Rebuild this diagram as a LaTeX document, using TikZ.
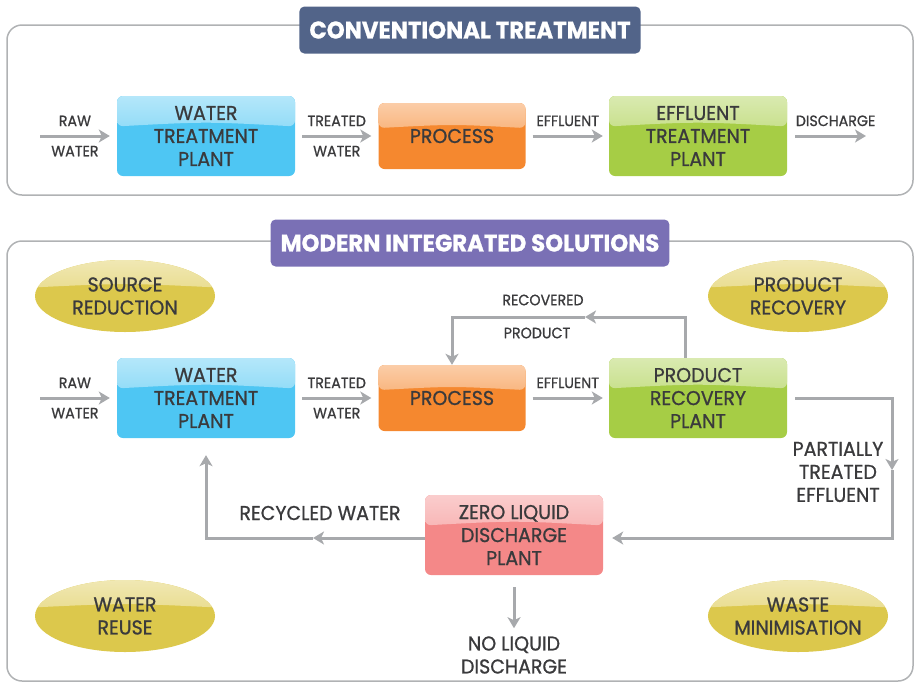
\documentclass[tikz,border=0pt]{standalone}
\usepackage{fontspec}
\setmainfont[FakeStretch=0.95, FakeBold=0.9]{Poppins}
\usetikzlibrary{arrows.meta,positioning,calc,shapes.geometric}
\definecolor{framegray}{RGB}{176,178,180}
\definecolor{flowgray}{RGB}{167,169,172}
\definecolor{textdark}{RGB}{58,58,60}
\definecolor{convblue}{RGB}{82,100,137}
\definecolor{modpurple}{RGB}{122,112,181}
\definecolor{wtpcyan}{RGB}{78,198,243}
\definecolor{procorange}{RGB}{245,136,47}
\definecolor{etpgreen}{RGB}{166,205,69}
\definecolor{zldpink}{RGB}{244,136,136}
\definecolor{goalyellow}{RGB}{220,200,76}

\tikzset{
  glossy/.style={fill=#1, path picture={
    \shade[top color=white!58!#1, bottom color=white!9!#1]
      (path picture bounding box.north west) -- (path picture bounding box.north east)
      -- ($(path picture bounding box.north east)!0.38!(path picture bounding box.south east)$)
      .. controls ($(path picture bounding box.north)!0.32!(path picture bounding box.south)$) ..
      ($(path picture bounding box.north west)!0.38!(path picture bounding box.south west)$) -- cycle;}},
  plant/.style={rounded corners=6pt, minimum width=178pt, minimum height=80pt, align=center,
    text=textdark, font=\fontsize{20}{23}\selectfont, glossy=#1},
  goal/.style={ellipse, minimum width=180pt, minimum height=72pt, inner sep=0pt, align=center,
    text=textdark, font=\fontsize{20}{23}\selectfont, glossy=goalyellow},
  banner/.style={rounded corners=5pt, fill=#1, text=white, minimum height=47pt, inner xsep=10pt,
    font=\bfseries\fontsize{24}{24}\selectfont},
  frame/.style={draw=framegray, line width=1.5pt, rounded corners=15pt},
  flow/.style={draw=flowgray, line width=3pt, -{Stealth[length=11pt, width=13pt, inset=3pt]}},
  lbl/.style={text=textdark, font=\fontsize{15}{16}\selectfont},
  note/.style={text=textdark, font=\fontsize{20}{23}\selectfont, align=center}
}

\begin{document}
\begin{tikzpicture}[x=1pt, y=-1pt]
  \useasboundingbox (0,0) rectangle (915,683);
  \clip (0,0) rectangle (915,683);

  % conventional treatment
  \draw[frame] (7,25) rectangle (913,195);
  \node[banner=convblue] (convtitle) at (470,30) {CONVENTIONAL TREATMENT};

  \node[plant=wtpcyan] (wtp1) at (206,136) {WATER\\TREATMENT\\PLANT};
  \node[plant=procorange, minimum width=147pt, minimum height=66pt] (proc1) at (452,136) {PROCESS};
  \node[plant=etpgreen] (etp1) at (698,136) {EFFLUENT\\TREATMENT\\PLANT};
  \coordinate (rawin1) at (40,136);
  \coordinate (dischout) at (866,136);

  \draw[flow] (rawin1) -- ([xshift=-7pt]wtp1.west)
    node[lbl, midway, above=5pt] {RAW} node[lbl, midway, below=5pt] {WATER};
  \draw[flow] ([xshift=7pt]wtp1.east) -- ([xshift=-7pt]proc1.west)
    node[lbl, midway, above=5pt] {TREATED} node[lbl, midway, below=5pt] {WATER};
  \draw[flow] ([xshift=7pt]proc1.east) -- ([xshift=-6pt]etp1.west)
    node[lbl, midway, above=5pt] {EFFLUENT};
  \draw[flow] ([xshift=8pt]etp1.east) -- (dischout)
    node[lbl, midway, above=5pt, xshift=5pt] {DISCHARGE};

  % modern integrated solutions
  \draw[frame] (7,241) rectangle (913,681);
  \node[banner=modpurple] (modtitle) at (470,243) {MODERN INTEGRATED SOLUTIONS};

  \node[goal] (source) at (125,296) {SOURCE\\REDUCTION};
  \node[goal] (prodrec) at (798,296) {PRODUCT\\RECOVERY};
  \node[goal] (reuse) at (125,616) {WATER\\REUSE};
  \node[goal] (waste) at (798,616) {WASTE\\MINIMISATION};

  \node[plant=wtpcyan] (wtp2) at (206,398) {WATER\\TREATMENT\\PLANT};
  \node[plant=procorange, minimum width=147pt, minimum height=66pt] (proc2) at (452,398) {PROCESS};
  \node[plant=etpgreen] (prp) at (698,398) {PRODUCT\\RECOVERY\\PLANT};
  \node[plant=zldpink] (zld) at (514,535) {ZERO LIQUID\\DISCHARGE\\PLANT};
  \coordinate (rawin2) at (40,398);

  \draw[flow] (rawin2) -- ([xshift=-7pt]wtp2.west)
    node[lbl, midway, above=5pt] {RAW} node[lbl, midway, below=5pt] {WATER};
  \draw[flow] ([xshift=7pt]wtp2.east) -- ([xshift=-7pt]proc2.west)
    node[lbl, midway, above=5pt] {TREATED} node[lbl, midway, below=5pt] {WATER};
  \draw[flow] ([xshift=7pt]proc2.east) -- ([xshift=-6pt]prp.west)
    node[lbl, midway, above=5pt] {EFFLUENT};

  % recovered product loop
  \coordinate (recmid) at (585,317);
  \draw[flow] ([xshift=-13pt]prp.north) |- (recmid);
  \draw[flow] (recmid) -| (proc2.north);
  \node[lbl] (recovered) at (543,300) {RECOVERED};
  \node[lbl] (product) at (537,333) {PRODUCT};

  % partially treated effluent
  \coordinate (partmid) at (892,470);
  \coordinate (partturn) at (892,538);
  \draw[flow] ([xshift=8pt]prp.east) -| (partmid);
  \draw[flow] (partmid) -- (partturn) -- ([xshift=9pt]zld.east |- partturn);
  \node[note] (partial) at (838,472) {PARTIALLY\\TREATED\\EFFLUENT};

  % recycled water
  \coordinate (recymid) at (313,538);
  \draw[flow] (zld.west |- recymid) -- (recymid);
  \draw[flow] (recymid) -| ([yshift=-17pt]wtp2.south);
  \node[note] (recycled) at (320,513) {RECYCLED WATER};

  % no liquid discharge
  \draw[flow] ([yshift=-12pt]zld.south) -- ([yshift=-53pt]zld.south);
  \node[note] (noliquid) at (514,655) {NO LIQUID\\DISCHARGE};
\end{tikzpicture}
\end{document}
